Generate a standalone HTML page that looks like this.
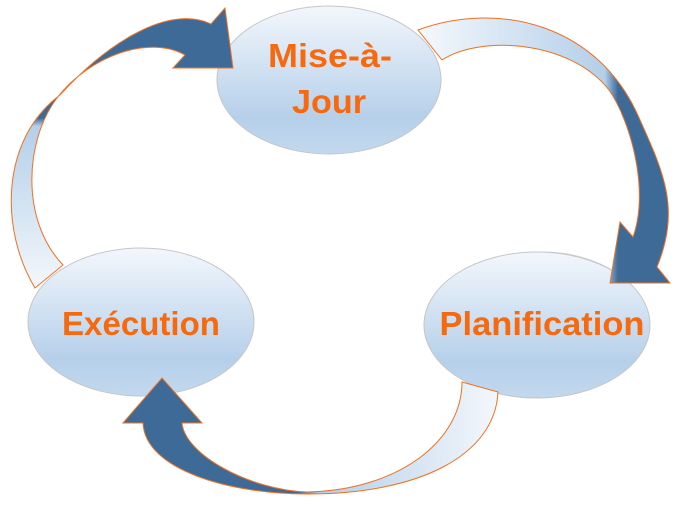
<!DOCTYPE html>
<html><head><meta charset="utf-8"><style>
html,body{margin:0;padding:0;background:#fff;}
svg{display:block;}
text{font-family:"Liberation Sans",sans-serif;font-weight:bold;fill:#f7690f;text-anchor:middle;}
</style></head><body>
<svg width="684" height="507" viewBox="0 0 684 507" xmlns="http://www.w3.org/2000/svg">
<defs>
<linearGradient id="ell" x1="0" y1="0" x2="0" y2="1">
<stop offset="0" stop-color="#f3f7fc"/><stop offset="0.75" stop-color="#b6d0ea"/><stop offset="1" stop-color="#c2d8ee"/>
</linearGradient>
<linearGradient id="gl" gradientUnits="userSpaceOnUse" x1="0" y1="290" x2="0" y2="90">
<stop offset="0" stop-color="#f4f8fc"/><stop offset="0.82" stop-color="#b4cfe9"/><stop offset="0.86" stop-color="#3e6a98"/><stop offset="1" stop-color="#3e6a98"/>
</linearGradient>
<linearGradient id="gr" gradientUnits="userSpaceOnUse" x1="420" y1="0" x2="640" y2="0">
<stop offset="0" stop-color="#f4f8fc"/><stop offset="0.84" stop-color="#b4cfe9"/><stop offset="0.9" stop-color="#3e6a98"/><stop offset="1" stop-color="#3e6a98"/>
</linearGradient>
<linearGradient id="gb" gradientUnits="userSpaceOnUse" x1="500" y1="0" x2="140" y2="0">
<stop offset="0" stop-color="#f4f8fc"/><stop offset="0.5" stop-color="#b4cfe9"/><stop offset="0.56" stop-color="#3e6a98"/><stop offset="1" stop-color="#3e6a98"/>
</linearGradient>
</defs>

<ellipse cx="329" cy="80" rx="112" ry="74" fill="url(#ell)" stroke="#c6c6c6"/>
<ellipse cx="141" cy="322" rx="113" ry="74" fill="url(#ell)" stroke="#c6c6c6"/>
<ellipse cx="543" cy="324" rx="104" ry="72" fill="url(#ell)" stroke="#d4d4d4"/>
<ellipse cx="537" cy="325" rx="113" ry="73" fill="url(#ell)" stroke="#c6c6c6"/>

<path d="M35,288 C0,230 0,140 60,95 C110,40 170,5 211,24 L225,8 L233,68 L173,68 L185,55 C150,35 90,55 57,98 C25,140 20,220 63,265 Z" fill="url(#gl)" stroke="#f07020" stroke-width="1"/>

<path d="M418,30 C500,0 600,25 640,120 C665,175 680,210 657,267 L670,283 L610,283 L620,222 L633,237 C650,190 630,120 609,90 C570,40 480,35 442,60 Z" fill="url(#gr)" stroke="#f07020" stroke-width="1"/>

<path d="M498,392 C495,455 420,494 307,494 C230,494 145,470 143,423 L123,423 L162,378 L202,423 L182,423 C185,455 250,490 307,492 C400,490 462,440 462,382 Z" fill="url(#gb)" stroke="#f07020" stroke-width="1"/>

<text x="330" y="67" font-size="33" textLength="124" lengthAdjust="spacingAndGlyphs">Mise-à-</text>
<text x="329" y="113" font-size="33" textLength="74" lengthAdjust="spacingAndGlyphs">Jour</text>
<text x="141" y="335" font-size="33" textLength="158" lengthAdjust="spacingAndGlyphs">Exécution</text>
<text x="542" y="335" font-size="33" textLength="205" lengthAdjust="spacingAndGlyphs">Planification</text>
</svg>
</body></html>
